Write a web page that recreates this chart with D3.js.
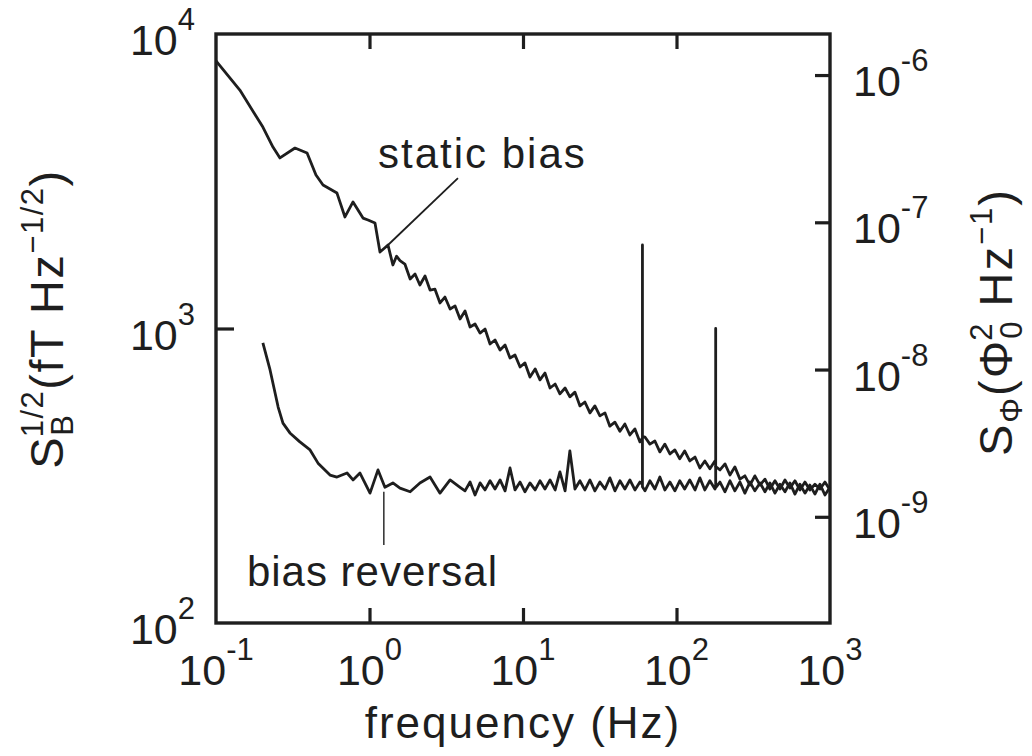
<!DOCTYPE html>
<html>
<head>
<meta charset="utf-8">
<script src="https://cdn.jsdelivr.net/npm/d3@7.9.0/dist/d3.min.js"></script>
<style>
  body { margin: 0; background: #fff; }
  svg { display: block; }
  text { font-family: "Liberation Sans", Arial, Helvetica, sans-serif; fill: #1e1e1e; }
</style>
</head>
<body>
<svg id="chart" width="1032" height="756"></svg>
<script>
// spectrum with static bias (Hz, fT/Hz^1/2)
const staticFreq = [0.1, 0.143, 0.202, 0.235, 0.261, 0.327, 0.392, 0.448, 0.498, 0.614, 0.692, 0.781, 0.907, 0.978, 1.086,
  1.17, 1.26, 1.32, 1.42, 1.50, 1.58, 1.70, 1.84, 1.98, 2.13, 2.30, 2.48, 2.67, 2.88, 3.10, 3.35, 3.61, 3.89, 4.19, 4.52,
  4.87, 5.25, 5.66, 6.10, 6.57, 7.09, 7.64, 8.23, 8.87, 9.57, 10.3, 11.1, 12.0, 12.9, 13.9, 15.0, 16.2, 17.4, 18.8, 20.2,
  21.8, 23.5, 25.3, 27.3, 29.4, 31.7, 34.2, 36.8, 39.7, 42.8, 46.1, 49.7, 53.6, 57.8, 60, 60, 60, 62.3, 67.1, 72.3, 77.9,
  84.0, 90.6, 97.6, 105, 113, 122, 132, 142, 153, 165, 178, 180, 180, 180, 192, 207, 223, 240, 259, 279, 301, 324, 350,
  377, 406, 438, 472, 509, 548, 591, 637, 687, 740, 798, 860, 927, 1000];
const staticVal = [8100, 6450, 4830, 4130, 3795, 4100, 3945, 3320, 3070, 2883, 2392, 2690, 2371, 2335, 2280,
  1818, 1880, 1921, 1643, 1760, 1700, 1655, 1472, 1531, 1405, 1507, 1351, 1360, 1221, 1279, 1165, 1193, 1077, 1147, 1012,
  1036, 965, 996, 886, 914, 845, 879, 794, 813, 740, 764, 684, 729, 669, 706, 628, 648, 600, 628, 586,
  608, 546, 563, 517, 546, 505, 517, 466, 481, 448, 474, 435, 456, 412, 425, 1921, 430, 428, 405, 415, 381,
  405, 375, 387, 361, 384, 355, 366, 336, 355, 334, 355, 345, 1000, 340, 331, 347, 318, 339, 308, 316, 294, 316, 294,
  308, 285, 304, 285, 306, 287, 304, 283, 301, 283, 296, 285, 301, 283];

// spectrum with bias reversal
const reversalFreq = [0.202, 0.225, 0.254, 0.273, 0.303, 0.352, 0.410, 0.462, 0.553, 0.614, 0.714, 0.781, 0.867, 1.008,
  1.136, 1.26, 1.42, 1.58, 1.84, 2.13, 2.48, 2.88, 3.35, 3.89, 4.19, 4.52, 4.87, 5.25, 5.66, 6.10, 6.57, 7.09, 7.64,
  8.23, 8.87, 9.57, 10.3, 11.1, 12.0, 12.9, 13.9, 15.0, 16.2, 17.4, 18.8, 20.2, 21.8, 23.5, 25.3, 27.3, 29.4, 31.7,
  34.2, 36.8, 39.7, 42.8, 46.1, 49.7, 53.6, 57.8, 60, 60, 60, 62.3, 67.1, 72.3, 77.9, 84.0, 90.6, 97.6, 105, 113, 122,
  132, 142, 153, 165, 178, 180, 180, 180, 192, 207, 223, 240, 259, 279, 301, 324, 350, 377, 406, 438, 472, 509, 548,
  591, 637, 687, 740, 798, 860, 927, 1000];
const reversalVal = [893, 723, 541, 477, 442, 412, 387, 349, 318, 313, 323, 306, 323, 276,
  331, 289, 299, 287, 279, 299, 313, 276, 306, 289, 281, 301, 272, 299, 283, 304, 285, 306, 281,
  336, 283, 301, 279, 299, 283, 304, 285, 306, 283, 326, 281, 384, 285, 304, 283, 306, 281, 301,
  285, 311, 281, 304, 285, 306, 283, 301, 295, 420, 290, 281, 304, 285, 313, 283, 301, 281, 304, 285, 306,
  283, 311, 283, 304, 285, 290, 339, 288, 301, 279, 304, 281, 301, 276, 301, 281, 299, 279, 299, 276, 296, 279, 299,
  274, 296, 276, 294, 274, 296, 272, 289];

const xTicks = [0.1, 1, 10, 100, 1000];
const xTickExp = ['-1', '0', '1', '2', '3'];
const leftTicks = [100, 1000, 10000];
const leftTickExp = ['2', '3', '4'];
const rightTicks = [1e-9, 1e-8, 1e-7, 1e-6];
const rightTickExp = ['-9', '-8', '-7', '-6'];
const phiPerB2 = 1.9e-14; // S_phi per S_B

const svg = d3.select('#chart');
const plotL = 216, plotR = 830, plotT = 34, plotB = 623;
const ink = '#1e1e1e';

const x = d3.scaleLog().domain([0.1, 1000]).range([plotL, plotR]);
const y = d3.scaleLog().domain([100, 10000]).range([plotB, plotT]);
const yR = d3.scaleLog().domain([100 * 100 * phiPerB2, 10000 * 10000 * phiPerB2]).range([plotB, plotT]);

// === axes (inward ticks, labels drawn by hand) ===
function tickStyle(g) {
  g.select('.domain').remove();
  g.selectAll('.tick line').attr('stroke', ink).attr('stroke-width', 3.2);
}
svg.append('g').attr('transform', `translate(0,${plotB})`)
  .call(d3.axisBottom(x).tickValues([1, 10, 100]).tickSize(-15).tickFormat('')).call(tickStyle);
svg.append('g').attr('transform', `translate(0,${plotT})`)
  .call(d3.axisTop(x).tickValues([1, 10, 100]).tickSize(-15).tickFormat('')).call(tickStyle);
svg.append('g').attr('transform', `translate(${plotL},0)`)
  .call(d3.axisLeft(y).tickValues([1000]).tickSize(-18).tickFormat('')).call(tickStyle);
svg.append('g').attr('transform', `translate(${plotR},0)`)
  .call(d3.axisRight(yR).tickValues(rightTicks).tickSize(-15).tickFormat('')).call(tickStyle);

svg.append('rect')
  .attr('x', plotL).attr('y', plotT).attr('width', plotR - plotL).attr('height', plotB - plotT)
  .attr('fill', 'none').attr('stroke', ink).attr('stroke-width', 3.4);

function powLabel(t, exp) {
  t.append('tspan').text('10');
  t.append('tspan').attr('font-size', 31).attr('dy', -25).text(exp);
}

xTicks.forEach((v, i) => {
  svg.append('text').attr('x', x(v)).attr('y', 685).attr('font-size', 43)
    .attr('text-anchor', 'middle').call(powLabel, xTickExp[i]);
});
leftTicks.forEach((v, i) => {
  svg.append('text').attr('x', 195).attr('y', y(v) + 21).attr('font-size', 43)
    .attr('text-anchor', 'end').call(powLabel, leftTickExp[i]);
});
rightTicks.forEach((v, i) => {
  svg.append('text').attr('x', 853).attr('y', yR(v) + 21).attr('font-size', 43)
    .attr('text-anchor', 'start').call(powLabel, rightTickExp[i]);
});

// === curves ===
const line = d3.line().x(d => x(d[0])).y(d => y(d[1]));
[[staticFreq, staticVal], [reversalFreq, reversalVal]].forEach(([fs, vs]) => {
  svg.append('path')
    .datum(fs.map((f, i) => [f, vs[i]]))
    .attr('d', line)
    .attr('fill', 'none').attr('stroke', ink)
    .attr('stroke-width', 2.8).attr('stroke-linejoin', 'round');
});

// === annotations ===
svg.append('line')
  .attr('x1', x(3.77)).attr('y1', y(3243)).attr('x2', x(1.32)).attr('y2', y(1921))
  .attr('stroke', ink).attr('stroke-width', 1.8);
svg.append('line')
  .attr('x1', x(1.24)).attr('y1', y(279)).attr('x2', x(1.24)).attr('y2', y(184))
  .attr('stroke', ink).attr('stroke-width', 1.4);
svg.append('text').attr('x', x(1.136)).attr('y', y(3508)).attr('font-size', 42)
  .attr('letter-spacing', 2).text('static bias');
svg.append('text').attr('x', x(0.159)).attr('y', y(133.6)).attr('font-size', 42)
  .attr('letter-spacing', 1).text('bias reversal');

// x title
svg.append('text').attr('x', (plotL + plotR) / 2).attr('y', 738).attr('font-size', 44)
  .attr('text-anchor', 'middle').attr('letter-spacing', 2).text('frequency (Hz)');

// left title: S_B^{1/2} (fT Hz^{-1/2})
const lt = svg.append('text').attr('transform', 'translate(63,319) rotate(-90)')
  .attr('font-size', 47).attr('text-anchor', 'middle').attr('letter-spacing', 1.5);
lt.append('tspan').text('S');
const sb = lt.append('tspan').attr('font-size', 31).attr('dy', 10).text('B');
lt.append('tspan').attr('font-size', 31).attr('dy', -30)
  .attr('dx', -sb.node().getComputedTextLength() - 1.5).text('1/2');
lt.append('tspan').attr('dy', 20).text('(fT Hz');
lt.append('tspan').attr('font-size', 31).attr('dy', -20).text('\u22121/2');
lt.append('tspan').attr('dy', 20).text(')');

// right title: S_Phi (Phi_0^2 Hz^{-1})
const rt = svg.append('text').attr('transform', 'translate(1012,322) rotate(-90)')
  .attr('font-size', 47).attr('text-anchor', 'middle').attr('letter-spacing', 2);
rt.append('tspan').text('S');
rt.append('tspan').attr('font-size', 31).attr('dy', 10).text('\u03A6');
rt.append('tspan').attr('dy', -10).text('(\u03A6');
const s0 = rt.append('tspan').attr('font-size', 31).attr('dy', 10).text('0');
rt.append('tspan').attr('font-size', 31).attr('dy', -30)
  .attr('dx', -s0.node().getComputedTextLength() - 2).text('2');
rt.append('tspan').attr('dy', 20).text(' Hz');
rt.append('tspan').attr('font-size', 31).attr('dy', -20).text('\u22121');
rt.append('tspan').attr('dy', 20).text(')');
</script>
</body>
</html>
